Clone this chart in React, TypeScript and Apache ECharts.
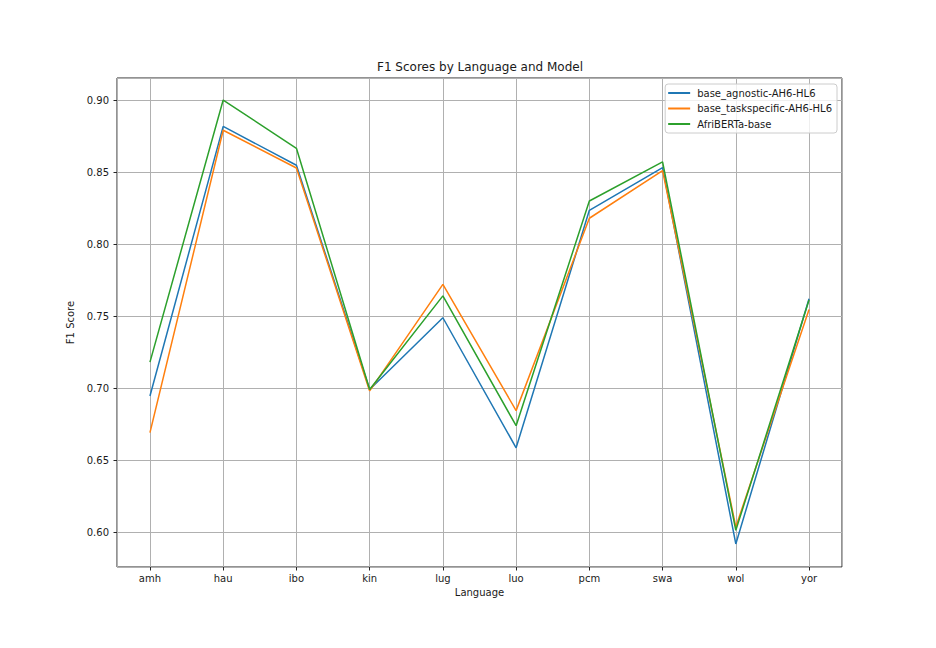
import React, { useEffect, useRef } from "react";
import * as echarts from "echarts";

const languages = ["amh", "hau", "ibo", "kin", "lug", "luo", "pcm", "swa", "wol", "yor"];
const agnostic = [0.6945, 0.8817, 0.8547, 0.699, 0.7488, 0.6585, 0.8234, 0.853, 0.5917, 0.762];
const taskspecific = [0.669, 0.879, 0.8528, 0.698, 0.772, 0.6843, 0.8179, 0.851, 0.6035, 0.7546];
const afriberta = [0.718, 0.9, 0.8665, 0.699, 0.764, 0.6738, 0.8299, 0.857, 0.6012, 0.7611];
const seriesNames = ["base_agnostic-AH6-HL6", "base_taskspecific-AH6-HL6", "AfriBERTa-base"];
const colors = ["#1f77b4", "#ff7f0e", "#2ca02c"];

const FONT = "DejaVu Sans";
const TXT = "#1a1a1a";

export default function App() {
  const ref = useRef<HTMLDivElement>(null);
  useEffect(() => {
    if (!ref.current) return;
    const chart = echarts.init(ref.current, undefined, { renderer: "svg" });
    const all = [agnostic, taskspecific, afriberta];
    chart.setOption({
      animation: false,
      backgroundColor: "#ffffff",
      textStyle: { fontFamily: FONT },
      title: {
        text: "F1 Scores by Language and Model",
        left: 480,
        textAlign: "center",
        top: 61,
        padding: 0,
        textStyle: { fontFamily: FONT, fontSize: 12, fontWeight: "normal", color: TXT },
      },
      legend: {
        orient: "vertical",
        right: 99,
        top: 84,
        padding: [3, 5, 3, 3],
        itemGap: 3.5,
        itemWidth: 22,
        itemHeight: 2,
        icon: "rect",
        borderColor: "#cccccc",
        borderWidth: 1,
        borderRadius: 3,
        backgroundColor: "rgba(255,255,255,0.8)",
        textStyle: { fontFamily: FONT, fontSize: 10, lineHeight: 12, color: TXT, padding: [0, 0, 0, 2] },
        data: seriesNames,
      },
      grid: {
        left: 117,
        right: 94,
        top: 78,
        bottom: 81,
        show: true,
        borderColor: "#262626",
        borderWidth: 1,
        backgroundColor: "transparent",
      },
      xAxis: {
        type: "value",
        min: -0.45,
        max: 9.45,
        splitNumber: 10,
        minInterval: 1,
        name: "Language",
        nameLocation: "middle",
        nameGap: 20,
        nameTextStyle: { fontFamily: FONT, fontSize: 10, color: TXT },
        axisLine: { show: false, onZero: false },
        axisTick: {
          show: true,
          length: 3.5,
          lineStyle: { color: "#262626" },
        },
        axisLabel: {
          showMinLabel: false,
          showMaxLabel: false,
          margin: 6,
          fontFamily: FONT,
          fontSize: 10,
          color: TXT,
          formatter: (v: number) => {
            const i = Math.round(v);
            return Math.abs(v - i) < 1e-6 && languages[i] ? languages[i] : "";
          },
        },
        splitLine: { show: true, lineStyle: { color: "#b0b0b0", width: 1 } },
      },
      yAxis: {
        type: "value",
        min: 0.5757,
        max: 0.9153,
        splitNumber: 5,
        name: "F1 Score",
        nameLocation: "middle",
        nameGap: 36,
        nameTextStyle: { fontFamily: FONT, fontSize: 10, color: TXT },
        axisLine: { show: false, onZero: false },
        axisTick: { show: true, length: 3.5, lineStyle: { color: "#262626" } },
        axisLabel: {
          showMinLabel: false,
          showMaxLabel: false,
          margin: 8,
          fontFamily: FONT,
          fontSize: 10,
          color: TXT,
          formatter: (v: number) => v.toFixed(2),
        },
        splitLine: { show: true, lineStyle: { color: "#b0b0b0", width: 1 } },
      },
      series: all.map((vals, k) => ({
        name: seriesNames[k],
        type: "line",
        data: vals.map((v, i) => [i, v]),
        symbol: "none",
        color: colors[k],
        lineStyle: { color: colors[k], width: 1.5 },
        z: 3 + k,
      })),
    });
    return () => chart.dispose();
  }, []);
  return <div ref={ref} style={{ width: 936, height: 648, position: "absolute", left: 0, top: 0 }} />;
}
